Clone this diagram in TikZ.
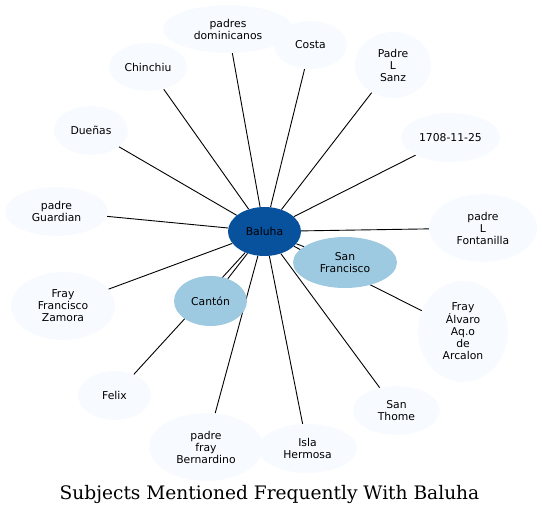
\documentclass[tikz,border=0pt]{standalone}
\usepackage{fontspec}
\setmainfont{DejaVu Sans}
\newfontfamily\titlefont{DejaVu Serif}
\usetikzlibrary{shapes.geometric}
\pgfdeclarelayer{background}
\pgfsetlayers{background,main}
\definecolor{lightfill}{HTML}{F7FBFF}
\definecolor{midfill}{HTML}{9ECAE1}
\definecolor{darkfill}{HTML}{08519C}
\tikzset{
 topic/.style={ellipse, inner sep=0pt, align=center, font=\fontsize{10.8}{12}\selectfont, text=black},
 light/.style={topic, fill=lightfill},
 mid/.style={topic, fill=midfill},
 hub/.style={topic, fill=darkfill},
 link/.style={draw=black, line width=0.9pt},
 sz/.style 2 args={minimum width=#1pt, minimum height=#2pt}
}
\begin{document}
\begin{tikzpicture}[x=1pt,y=-1pt]
\useasboundingbox (0,0) rectangle (542,516);
\node[hub, sz={73}{49}] (baluha) at (264.5,231.5) {Baluha};
\node[light, sz={130}{48}] (dominicanos) at (228,29) {padres\\dominicanos};
\node[light, sz={73}{48}] (costa) at (310.5,45) {Costa};
\node[light, sz={78}{48}] (chinchiu) at (148,67) {Chinchiu};
\node[light, sz={76}{66}] (sanz) at (393,65) {Padre\\L\\Sanz};
\node[light, sz={99}{49}] (fecha) at (450.5,137.5) {1708-11-25};
\node[light, sz={74}{49}] (duenas) at (91,130.5) {Dueñas};
\node[light, sz={103}{49}] (guardian) at (56.5,211.5) {padre\\Guardian};
\node[light, sz={108}{68}] (fontanilla) at (483,228) {padre\\L\\Fontanilla};
\node[light, sz={104}{68}] (zamora) at (63,306) {Fray\\Francisco\\Zamora};
\node[light, sz={90}{101}] (alvaro) at (463,331.5) {Fray\\Álvaro\\Aq.o\\de\\Arcalon};
\node[light, sz={73}{49}] (felix) at (114.5,395.5) {Felix};
\node[light, sz={114}{68}] (bernardino) at (206,447) {padre\\fray\\Bernardino};
\node[light, sz={99}{49}] (isla) at (307.5,448.5) {Isla\\Hermosa};
\node[light, sz={87}{49}] (thome) at (396.5,410.5) {San\\Thome};
\node[mid, sz={104}{51}] (sanfrancisco) at (345,262.5) {San\\Francisco};
\node[mid, sz={73}{50}] (canton) at (210.5,301) {Cantón};
\begin{pgfonlayer}{background}
\foreach \t in {dominicanos,costa,chinchiu,sanz,fecha,duenas,guardian,fontanilla,zamora,alvaro,felix,bernardino,isla,thome,sanfrancisco,canton}
  \draw[link] (baluha) -- (\t);
\end{pgfonlayer}
\node[anchor=base, inner sep=0pt, font=\titlefont\fontsize{18.6}{22}\selectfont] (title) at (269.5,499.5) {Subjects Mentioned Frequently With Baluha};
\end{tikzpicture}
\end{document}
